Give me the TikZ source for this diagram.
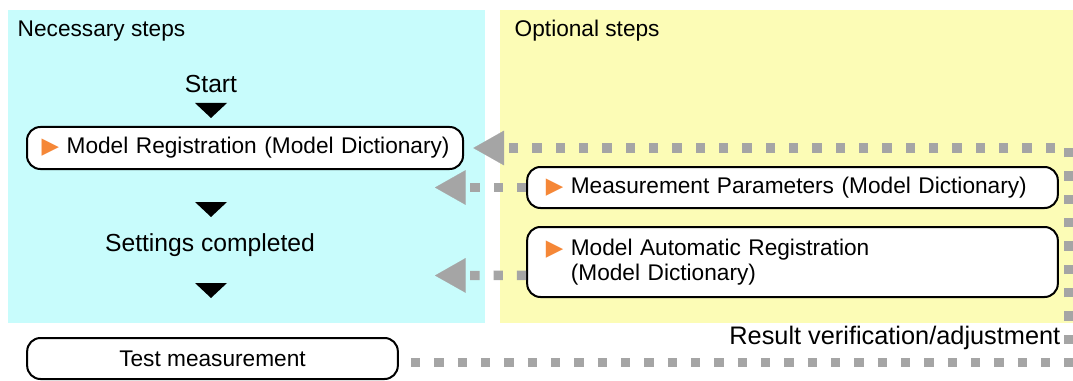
\documentclass[tikz,border=0pt]{standalone}
\usepackage{fontspec}
\setmainfont{Liberation Sans}
\newfontfamily\symfont{DejaVu Sans}
\usetikzlibrary{arrows.meta,positioning}
\definecolor{necfill}{RGB}{200,252,252}
\definecolor{optfill}{RGB}{252,252,182}
\definecolor{optgray}{RGB}{165,165,165}
\definecolor{steporange}{RGB}{245,135,55}
\newcommand{\boxfont}{\fontsize{17}{19}\selectfont}
\newcommand{\flowfont}{\fontsize{18.5}{22}\selectfont}
\newcommand{\resfont}{\fontsize{19}{23}\selectfont}
\newcommand{\steptri}{{\symfont\textcolor{steporange}{▶}}\ }
\newcommand{\flowtri}[1]{%
  \fill (195,#1) -- (227,#1) -- (211,#1+15) -- cycle;
}
\tikzset{
  stepbox/.style={draw, line width=1.5pt, rounded corners=10pt, fill=white,
    font=\boxfont, inner xsep=11pt, inner ysep=0pt, align=left},
  optline/.style={draw=optgray, line width=7pt, dash pattern=on 7pt off 10.5pt},
  optarrow/.style={-{Triangle[length=23pt,width=26pt,line width=0.1pt,fill=optgray]}},
}

\begin{document}
\begin{tikzpicture}[x=0.75pt, y=-0.75pt]
    \useasboundingbox (0,0) rectangle (1073,381);
    \fill[necfill] (8,10) rectangle (485,323);
    \fill[optfill] (500,10) rectangle (1073,323);
    \node[anchor=west, font=\boxfont] (nectitle) at (13,31) {Necessary steps};
    \node[anchor=west, font=\boxfont] (opttitle) at (510,31) {Optional steps};
    % necessary flow
    \node[font=\flowfont] (start) at (211,84) {Start};
    \node[stepbox, text width=305pt, minimum height=31.5pt] (reg) at (245,148)
      {\mbox{\steptri Model Registration (Model Dictionary)}};
    \node[font=\flowfont] (done) at (210,245) {Settings completed};
    \foreach \y in {103, 202, 283} {
      \flowtri{\y}
    }
    % optional steps
    \node[stepbox, inner xsep=14pt, text width=370pt, minimum height=30.75pt] (meas) at (792.5,187.5)
      {\steptri Measurement Parameters (Model Dictionary)};
    \node[stepbox, inner xsep=14pt, text width=370pt, minimum height=52.5pt] (auto) at (792.5,262)
      {\steptri Model Automatic Registration\\\phantom{\steptri}(Model Dictionary)};
    \node[stepbox, align=center, minimum width=278pt, minimum height=30.75pt] (test) at (212.5,358.5)
      {Test measurement};
    \node[anchor=east, font=\resfont] (result) at (1065,338) {Result verification/adjustment};
    \coordinate (loop) at (1069,148);
    \coordinate (measin) at (435,187.5);
    \coordinate (autoin) at (435,275.5);
    \draw[optline, optarrow] ([xshift=9pt,yshift=-3pt]test.east) -| (loop) -- ([xshift=7pt]reg.east);
    \draw[optline, optarrow] (meas.west) -- (measin);
    \draw[optline, optarrow] ([yshift=-10pt]auto.west) -- (autoin);
\end{tikzpicture}
\end{document}
